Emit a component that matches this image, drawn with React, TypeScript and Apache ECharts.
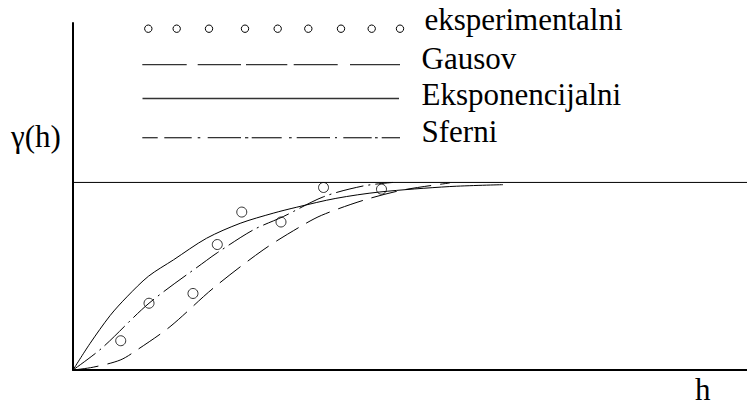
import React, { useEffect, useRef } from "react";
import * as echarts from "echarts";

// Observed (experimental) semivariogram points
const hObs = [7.08, 11.28, 17.8, 21.41, 25.04, 30.86, 37.17, 45.77];
const gammaObs = [0.156, 0.356, 0.408, 0.669, 0.842, 0.789, 0.973, 0.964];

// Gaussian model curve
const hGau = [0, 3, 7, 9.5, 14.4, 20.8, 28.2, 33.7, 36.9, 43.1, 49, 55.9];
const gammaGau = [0, 0.015, 0.053, 0.107, 0.231, 0.436, 0.64, 0.764, 0.825, 0.905, 0.96, 0.997];

// Exponential model curve
const hExp = [0, 2.5, 5.5, 8, 11.2, 14.9, 19.8, 24.8, 29.7, 33.2, 39, 45.5, 55.9, 63.8];
const gammaExp = [0, 0.14, 0.29, 0.39, 0.5, 0.587, 0.702, 0.782, 0.836, 0.868, 0.915, 0.949, 0.978, 0.988];

// Spherical model curve
const hSph = [0, 4.26, 11.28, 19.84, 21.4, 26.75, 31.2, 37.2, 43.03, 47.48];
const gammaSph = [0, 0.116, 0.356, 0.585, 0.625, 0.747, 0.818, 0.924, 0.981, 1.0];

// Sill
const sillH = [0, 100];
const sillGamma = [1, 1];

const legendLabels = ["eksperimentalni", "Gausov", "Eksponencijalni", "Sferni"];
const yLabel = "γ(h)";
const xLabel = "h";

const zip = (a: number[], b: number[]) => a.map((v, i) => [v, b[i]]);

export default function App() {
  const ref = useRef<HTMLDivElement>(null);
  useEffect(() => {
    if (!ref.current) return;
    const chart = echarts.init(ref.current, null, { renderer: "svg" });
    const fontFamily = "Liberation Serif";
    const black = "#000";

    const legendCircleX = [148.3, 176.7, 209, 245, 277.7, 308.3, 341, 371.7, 400];
    const gaussSegs = [[142.3, 186.7], [197.7, 241], [246, 287.3], [293.7, 337.7], [350, 400]];
    const sphSegs = [
      [142.3, 157.7], [164.3, 191.7], [197.7, 200.3], [207.7, 241], [245, 248.3], [251.7, 281.7],
      [289, 291.7], [296.7, 330], [335, 337], [343.3, 371.7], [375, 377.7], [381.7, 400],
    ];
    const graphic: any[] = [];
    const centers = [19.5, 58, 94.5, 131.3];
    legendLabels.forEach((t, i) =>
      graphic.push({
        type: "text",
        x: i === 0 ? 424.5 : 421.5,
        y: centers[i],
        style: { text: t, fill: black, fontFamily, fontSize: 31, verticalAlign: "middle" },
      })
    );
    graphic.push({
      type: "text",
      x: 11,
      y: 136.5,
      style: { text: yLabel, fill: black, fontFamily, fontSize: 31, verticalAlign: "middle" },
    });
    graphic.push({
      type: "text",
      x: 695,
      y: 389.5,
      style: { text: xLabel, fill: black, fontFamily, fontSize: 31, verticalAlign: "middle" },
    });
    legendCircleX.forEach((x) =>
      graphic.push({ type: "circle", shape: { cx: x, cy: 28.7, r: 3.7 }, style: { fill: "#fff", stroke: black, lineWidth: 1 } })
    );
    gaussSegs.forEach(([a, b]) =>
      graphic.push({ type: "line", shape: { x1: a, y1: 64.7, x2: b, y2: 64.7 }, style: { stroke: "#333", lineWidth: 1.3 } })
    );
    graphic.push({ type: "line", shape: { x1: 142.5, y1: 98.5, x2: 399, y2: 98.5 }, style: { stroke: "#333", lineWidth: 1.3 } });
    sphSegs.forEach(([a, b]) =>
      graphic.push({ type: "line", shape: { x1: a, y1: 137.7, x2: b, y2: 137.7 }, style: { stroke: "#333", lineWidth: 1.3 } })
    );

    const lineBase = { type: "line", symbol: "none", smooth: 0.3, silent: true };
    chart.setOption({
      animation: false,
      backgroundColor: "#fff",
      grid: { left: 73, right: 0, top: 23, bottom: 36 },
      xAxis: {
        type: "value",
        min: 0,
        max: 100,
        axisLine: { show: true, onZero: false, lineStyle: { color: black, width: 2 } },
        axisTick: { show: false },
        axisLabel: { show: false },
        splitLine: { show: false },
      },
      yAxis: {
        type: "value",
        min: 0,
        max: 1.85,
        axisLine: { show: true, onZero: false, lineStyle: { color: black, width: 2 } },
        axisTick: { show: false },
        axisLabel: { show: false },
        splitLine: { show: false },
      },
      graphic,
      series: [
        { ...lineBase, smooth: false, name: "sill", data: zip(sillH, sillGamma), lineStyle: { color: black, width: 1 } },
        { ...lineBase, name: legendLabels[1], data: zip(hGau, gammaGau), lineStyle: { color: black, width: 1, type: [26, 9] } },
        { ...lineBase, name: legendLabels[2], data: zip(hExp, gammaExp), lineStyle: { color: black, width: 1 } },
        { ...lineBase, name: legendLabels[3], data: zip(hSph, gammaSph), lineStyle: { color: black, width: 1, type: [28, 5, 2, 5] } },
        {
          type: "scatter",
          name: legendLabels[0],
          data: zip(hObs, gammaObs),
          symbol: "circle",
          symbolSize: 10,
          itemStyle: { color: "#fff", borderColor: black, borderWidth: 1 },
          silent: true,
        },
      ],
    });
    return () => chart.dispose();
  }, []);
  return (
    <div
      ref={ref}
      style={{ position: "fixed", left: 0, top: 0, width: 747, height: 406, background: "#fff" }}
    />
  );
}
